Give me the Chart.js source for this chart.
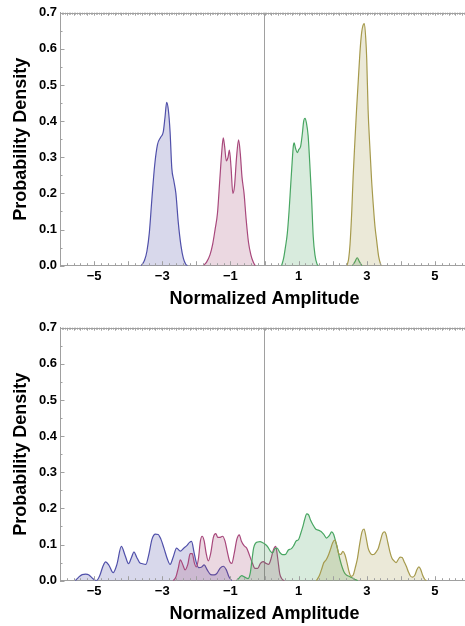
<!DOCTYPE html>
<html>
<head>
<meta charset="utf-8">
<script src="https://cdn.jsdelivr.net/npm/chart.js@4"></script>
<style>
  body { margin: 0; background: #fff; overflow: hidden; }
  canvas { position: absolute; left: 0; }
  #topChart { top: 0; }
  #bottomChart { top: 315px; }
</style>
</head>
<body>
<canvas id="topChart" width="472" height="315"></canvas>
<canvas id="bottomChart" width="472" height="315"></canvas>
<script>
// axis text
const xTitle = 'Normalized Amplitude';
const yTitle = 'Probability Density';
const xLabelValues = [-5, -3, -1, 1, 3, 5];

// ---- top panel: four density curves ----
const topBlueX = [-3.62, -3.52, -3.45, -3.38, -3.30, -3.22, -3.14, -3.05, -2.97, -2.92, -2.87, -2.82, -2.77, -2.72, -2.66, -2.60, -2.53, -2.45, -2.38, -2.31, -2.26];
const topBlueY = [0, 0.015, 0.04, 0.09, 0.19, 0.28, 0.335, 0.355, 0.37, 0.41, 0.452, 0.43, 0.37, 0.27, 0.235, 0.20, 0.12, 0.055, 0.02, 0.004, 0];

const topPinkX = [-1.80, -1.70, -1.60, -1.52, -1.45, -1.38, -1.31, -1.25, -1.21, -1.17, -1.12, -1.07, -1.03, -0.98, -0.93, -0.88, -0.82, -0.76, -0.71, -0.66, -0.60, -0.54, -0.47, -0.40, -0.33, -0.27];
const topPinkY = [0, 0.01, 0.03, 0.06, 0.10, 0.145, 0.24, 0.32, 0.354, 0.33, 0.29, 0.30, 0.32, 0.27, 0.20, 0.22, 0.30, 0.348, 0.31, 0.245, 0.20, 0.13, 0.065, 0.03, 0.01, 0];

const topGreenX = [0.50, 0.56, 0.62, 0.67, 0.72, 0.76, 0.80, 0.845, 0.87, 0.91, 0.96, 1.01, 1.06, 1.11, 1.15, 1.19, 1.23, 1.28, 1.33, 1.38, 1.43, 1.48, 1.54, 1.58, 2.10, 2.58, 2.66, 2.72, 2.78, 2.86];
const topGreenY = [0, 0.02, 0.055, 0.09, 0.15, 0.21, 0.27, 0.33, 0.34, 0.325, 0.313, 0.322, 0.33, 0.365, 0.40, 0.408, 0.395, 0.36, 0.28, 0.19, 0.08, 0.03, 0.005, 0, null, 0, 0.012, 0.022, 0.012, 0];

const topOliveX = [2.42, 2.47, 2.51, 2.56, 2.60, 2.65, 2.70, 2.75, 2.80, 2.85, 2.89, 2.93, 2.97, 3.00, 3.04, 3.09, 3.14, 3.19, 3.24, 3.29, 3.35, 3.42];
const topOliveY = [0, 0.02, 0.06, 0.15, 0.245, 0.34, 0.43, 0.51, 0.59, 0.645, 0.665, 0.67, 0.63, 0.57, 0.43, 0.33, 0.24, 0.17, 0.11, 0.07, 0.025, 0];

// ---- bottom panel: four wider density curves ----
const botBlueX = [-5.55, -5.45, -5.35, -5.25, -5.15, -5.04, -4.93, -4.83, -4.74, -4.66, -4.56, -4.44, -4.33, -4.20, -4.09, -3.99, -3.90, -3.83, -3.75, -3.67, -3.58, -3.48, -3.40, -3.30, -3.20, -3.12, -3.04, -2.95, -2.85, -2.77, -2.68, -2.58, -2.47, -2.37, -2.28, -2.20, -2.14, -2.07, -2.00, -1.93, -1.84, -1.77, -1.68, -1.58, -1.48, -1.40, -1.30, -1.21, -1.12, -1.04, -0.96];
const botBlueY = [0, 0.01, 0.017, 0.018, 0.016, 0.006, 0.0, 0.015, 0.04, 0.052, 0.042, 0.022, 0.045, 0.095, 0.07, 0.047, 0.065, 0.08, 0.065, 0.051, 0.047, 0.045, 0.07, 0.115, 0.129, 0.128, 0.115, 0.09, 0.06, 0.045, 0.065, 0.09, 0.082, 0.09, 0.097, 0.106, 0.109, 0.08, 0.05, 0.036, 0.038, 0.044, 0.03, 0.017, 0.016, 0.02, 0.035, 0.04, 0.03, 0.01, 0];

const botPinkX = [-2.68, -2.60, -2.53, -2.47, -2.40, -2.33, -2.25, -2.18, -2.12, -2.06, -2.00, -1.94, -1.88, -1.83, -1.77, -1.71, -1.65, -1.58, -1.50, -1.43, -1.37, -1.30, -1.23, -1.16, -1.09, -1.02, -0.96, -0.89, -0.81, -0.74, -0.68, -0.60, -0.52, -0.44, -0.36, -0.28, -0.20, -0.12, -0.04, 0.04, 0.12, 0.19, 0.26, 0.33, 0.39, 0.45, 0.52, 0.58];
const botPinkY = [0, 0.01, 0.035, 0.058, 0.045, 0.03, 0.045, 0.075, 0.075, 0.05, 0.038, 0.06, 0.11, 0.123, 0.11, 0.075, 0.055, 0.075, 0.12, 0.13, 0.12, 0.12, 0.123, 0.11, 0.08, 0.053, 0.048, 0.075, 0.115, 0.127, 0.11, 0.097, 0.09, 0.07, 0.05, 0.034, 0.034, 0.048, 0.053, 0.048, 0.045, 0.06, 0.085, 0.095, 0.06, 0.018, 0.004, 0];

const botGreenX = [-0.82, -0.74, -0.67, -0.58, -0.48, -0.42, -0.37, -0.32, -0.26, -0.20, -0.13, -0.05, 0.03, 0.10, 0.17, 0.24, 0.30, 0.37, 0.45, 0.53, 0.62, 0.70, 0.78, 0.85, 0.93, 1.00, 1.06, 1.12, 1.18, 1.24, 1.29, 1.35, 1.42, 1.50, 1.58, 1.66, 1.74, 1.82, 1.90, 1.97, 2.03, 2.09, 2.15, 2.21, 2.27, 2.33, 2.39, 2.46, 2.53, 2.60, 2.67, 2.74];
const botGreenY = [0, 0.008, 0.014, 0.01, 0.006, 0.02, 0.055, 0.09, 0.104, 0.107, 0.108, 0.105, 0.1, 0.093, 0.082, 0.077, 0.088, 0.09, 0.078, 0.072, 0.073, 0.085, 0.088, 0.096, 0.11, 0.114, 0.13, 0.148, 0.17, 0.185, 0.183, 0.168, 0.155, 0.143, 0.14, 0.136, 0.128, 0.118, 0.125, 0.135, 0.128, 0.108, 0.085, 0.06, 0.04, 0.025, 0.017, 0.013, 0.01, 0.007, 0.003, 0];

const botOliveX = [1.52, 1.60, 1.67, 1.74, 1.81, 1.88, 1.94, 2.00, 2.06, 2.12, 2.18, 2.24, 2.30, 2.36, 2.42, 2.48, 2.54, 2.60, 2.66, 2.72, 2.79, 2.86, 2.92, 2.98, 3.04, 3.10, 3.16, 3.22, 3.28, 3.34, 3.40, 3.46, 3.52, 3.56, 3.62, 3.68, 3.74, 3.80, 3.86, 3.92, 3.98, 4.04, 4.10, 4.16, 4.22, 4.28, 4.35, 4.41, 4.47, 4.53, 4.58, 4.64, 4.70, 4.75];
const botOliveY = [0, 0.012, 0.03, 0.05, 0.058, 0.072, 0.088, 0.105, 0.112, 0.098, 0.075, 0.073, 0.081, 0.072, 0.05, 0.025, 0.012, 0.015, 0.035, 0.058, 0.1, 0.135, 0.143, 0.12, 0.09, 0.077, 0.072, 0.073, 0.08, 0.09, 0.11, 0.13, 0.135, 0.13, 0.105, 0.08, 0.062, 0.055, 0.05, 0.058, 0.065, 0.064, 0.052, 0.04, 0.025, 0.013, 0.01, 0.015, 0.03, 0.038, 0.032, 0.015, 0.004, 0];

// Mathematica-style plot colours (fill) and slightly lighter line tone
const colors = [[61, 61, 153], [153, 61, 107], [61, 153, 84], [153, 143, 61]];
const lineColors = ['rgb(80,80,170)', 'rgb(168,72,124)', 'rgb(72,166,98)', 'rgb(166,154,76)'];

const axisGray = '#a0a0a0';
const fontFamily = '"Liberation Sans", Arial, sans-serif';

function series(xs, ys, idx) {
  const c = colors[idx];
  return {
    data: xs.map((x, i) => ({ x: x, y: ys[i] })),
    borderColor: lineColors[idx],
    backgroundColor: `rgba(${c[0]},${c[1]},${c[2]},0.2)`,
    borderWidth: 1.2,
    fill: 'origin',
    pointRadius: 0,
    tension: 0.4,
    cubicInterpolationMode: 'monotone',
    spanGaps: false,
    order: 4 - idx
  };
}

// inward tick marks on the frame, placed through the chart's scales
const frameTicks = {
  id: 'frameTicks',
  afterDatasetsDraw(chart) {
    const { ctx, chartArea: a, scales: { x, y } } = chart;
    ctx.save();
    ctx.strokeStyle = axisGray;
    ctx.lineWidth = 1;
    ctx.beginPath();
    // top frame line
    ctx.moveTo(a.left, Math.round(a.top) + 0.5);
    ctx.lineTo(a.right, Math.round(a.top) + 0.5);
    // top ticks
    for (let i = -120; i <= 120; i++) {
      const px = Math.round(x.getPixelForValue(i * 0.05)) + 0.5;
      const len = i % 4 === 0 ? 3 : 2;
      ctx.moveTo(px, a.top);
      ctx.lineTo(px, a.top + len);
    }
    // bottom ticks
    for (let i = -30; i <= 30; i++) {
      const px = Math.round(x.getPixelForValue(i * 0.2)) + 0.5;
      const len = i % 5 === 0 ? 4.5 : 2.5;
      ctx.moveTo(px, a.bottom);
      ctx.lineTo(px, a.bottom - len);
    }
    // left ticks
    for (let i = 0; i <= 14; i++) {
      const py = Math.round(y.getPixelForValue(i * 0.05)) + 0.5;
      const len = i % 2 === 0 ? 4.5 : 2.5;
      ctx.moveTo(a.left, py);
      ctx.lineTo(a.left + len, py);
    }
    ctx.stroke();
    ctx.restore();
  }
};

function makeChart(id, datasets) {
  return new Chart(document.getElementById(id), {
    type: 'line',
    data: { datasets: datasets },
    options: {
      responsive: false,
      animation: false,
      devicePixelRatio: 1,
      layout: { padding: { top: 12.7, right: 3, left: 0, bottom: 0 } },
      plugins: { legend: { display: false }, tooltip: { enabled: false } },
      scales: {
        x: {
          type: 'linear',
          min: -6,
          max: 6,
          afterFit: s => { s.height = 49.3; },
          border: { display: true, color: axisGray, width: 1 },
          grid: {
            drawTicks: false,
            color: c => (c.tick && c.tick.value === 0 ? axisGray : 'rgba(0,0,0,0)'),
            lineWidth: 1
          },
          ticks: {
            stepSize: 1,
            autoSkip: false,
            maxRotation: 0,
            padding: 3,
            color: '#000',
            font: { family: fontFamily, size: 13, weight: 'bold' },
            callback: v => (xLabelValues.includes(v) ? (v < 0 ? '\u2212' + Math.abs(v) : String(v)) : '')
          },
          title: {
            display: true,
            text: xTitle,
            color: '#000',
            font: { family: fontFamily, size: 18, weight: 'bold' },
            padding: { top: 0, bottom: 5.4 }
          }
        },
        y: {
          min: 0,
          max: 0.7,
          afterFit: s => { s.width = 60; },
          border: { display: true, color: axisGray, width: 1 },
          grid: { drawTicks: false, color: 'rgba(0,0,0,0)' },
          ticks: {
            stepSize: 0.1,
            padding: 3,
            color: '#000',
            font: { family: fontFamily, size: 13, weight: 'bold' },
            callback: v => v.toFixed(1)
          },
          title: {
            display: true,
            text: yTitle,
            color: '#000',
            font: { family: fontFamily, size: 18, weight: 'bold' },
            padding: { top: 10, bottom: 0 }
          }
        }
      }
    },
    plugins: [frameTicks]
  });
}

makeChart('topChart', [
  series(topBlueX, topBlueY, 0),
  series(topPinkX, topPinkY, 1),
  series(topGreenX, topGreenY, 2),
  series(topOliveX, topOliveY, 3)
]);

makeChart('bottomChart', [
  series(botBlueX, botBlueY, 0),
  series(botPinkX, botPinkY, 1),
  series(botGreenX, botGreenY, 2),
  series(botOliveX, botOliveY, 3)
]);
</script>
</body>
</html>
